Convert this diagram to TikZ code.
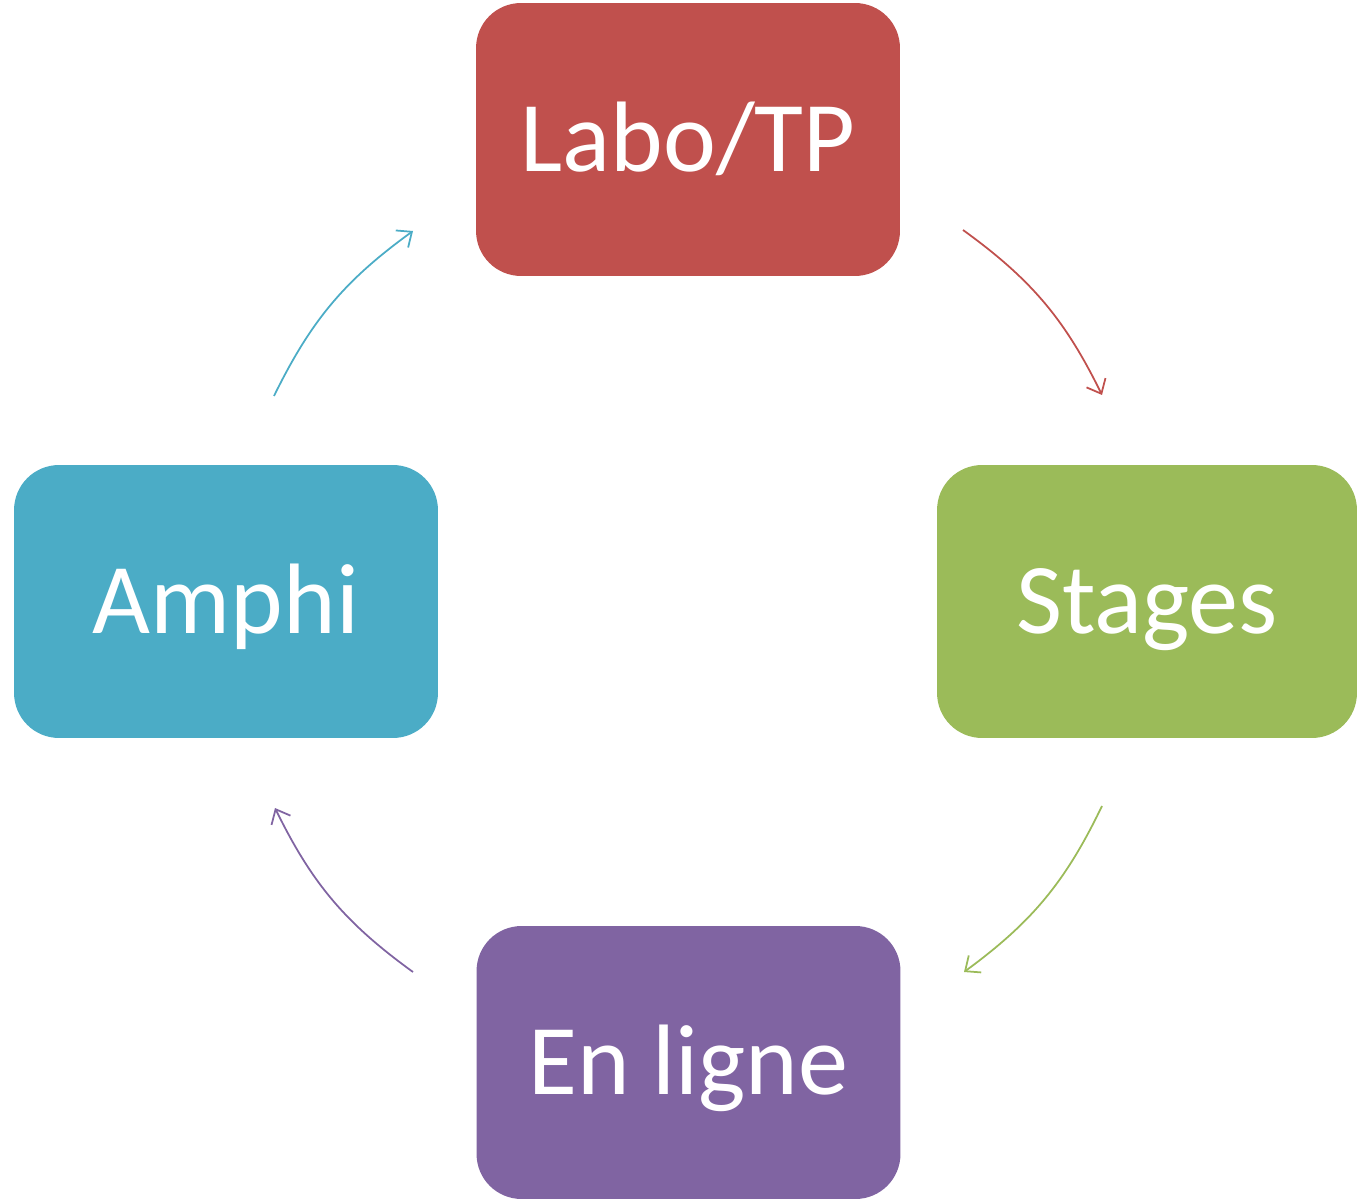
\documentclass[tikz,border=0pt]{standalone}
\usepackage{fontspec}
\setmainfont{Carlito}
\usetikzlibrary{arrows.meta}

\definecolor{labored}{HTML}{C0504D}
\definecolor{stagesgreen}{HTML}{9BBB59}
\definecolor{enlignepurple}{HTML}{8064A2}
\definecolor{amphiblue}{HTML}{4BACC6}

\begin{document}
\begin{tikzpicture}[x=0.02cm, y=-0.02cm]
            \tikzstyle{box}   = [rectangle, rounded corners=0.9cm, minimum width=8.48cm, minimum height=5.46cm, inner sep=0pt, text=white, font=\fontsize{57}{68}\selectfont, text height=36.5pt, text depth=0pt]
            \tikzstyle{cycle} = [line width=1pt, -{Straight Barb[length=7pt, width=12pt]}]

            \useasboundingbox (0,0) rectangle (1359,1199);

            \node[box, fill=labored] (labo) at (688,139.5) {Labo/TP};
            \node[box, fill=stagesgreen, minimum width=8.4cm] (stages) at (1147,601.5) {Stages};
            \node[box, fill=enlignepurple] (enligne) at (688.5,1062.5) {En ligne};
            \node[box, fill=amphiblue] (amphi) at (226,601.5) {Amphi};

            % arc ends
            \coordinate (laboout) at (963,230);
            \coordinate (stagesin) at (1102,395);
            \coordinate (stagesout) at (1102,806);
            \coordinate (enlignein) at (964,972);
            \coordinate (enligneout) at (413,972);
            \coordinate (amphiin) at (275,808);
            \coordinate (amphiout) at (274,396);
            \coordinate (laboin) at (413,231);

            \draw[cycle, draw=labored] (laboout) to[bend left=14] (stagesin);
            \draw[cycle, draw=stagesgreen] (stagesout) to[bend left=14] (enlignein);
            \draw[cycle, draw=enlignepurple] (enligneout) to[bend left=14] (amphiin);
            \draw[cycle, draw=amphiblue] (amphiout) to[bend left=14] (laboin);
        \end{tikzpicture}
\end{document}
